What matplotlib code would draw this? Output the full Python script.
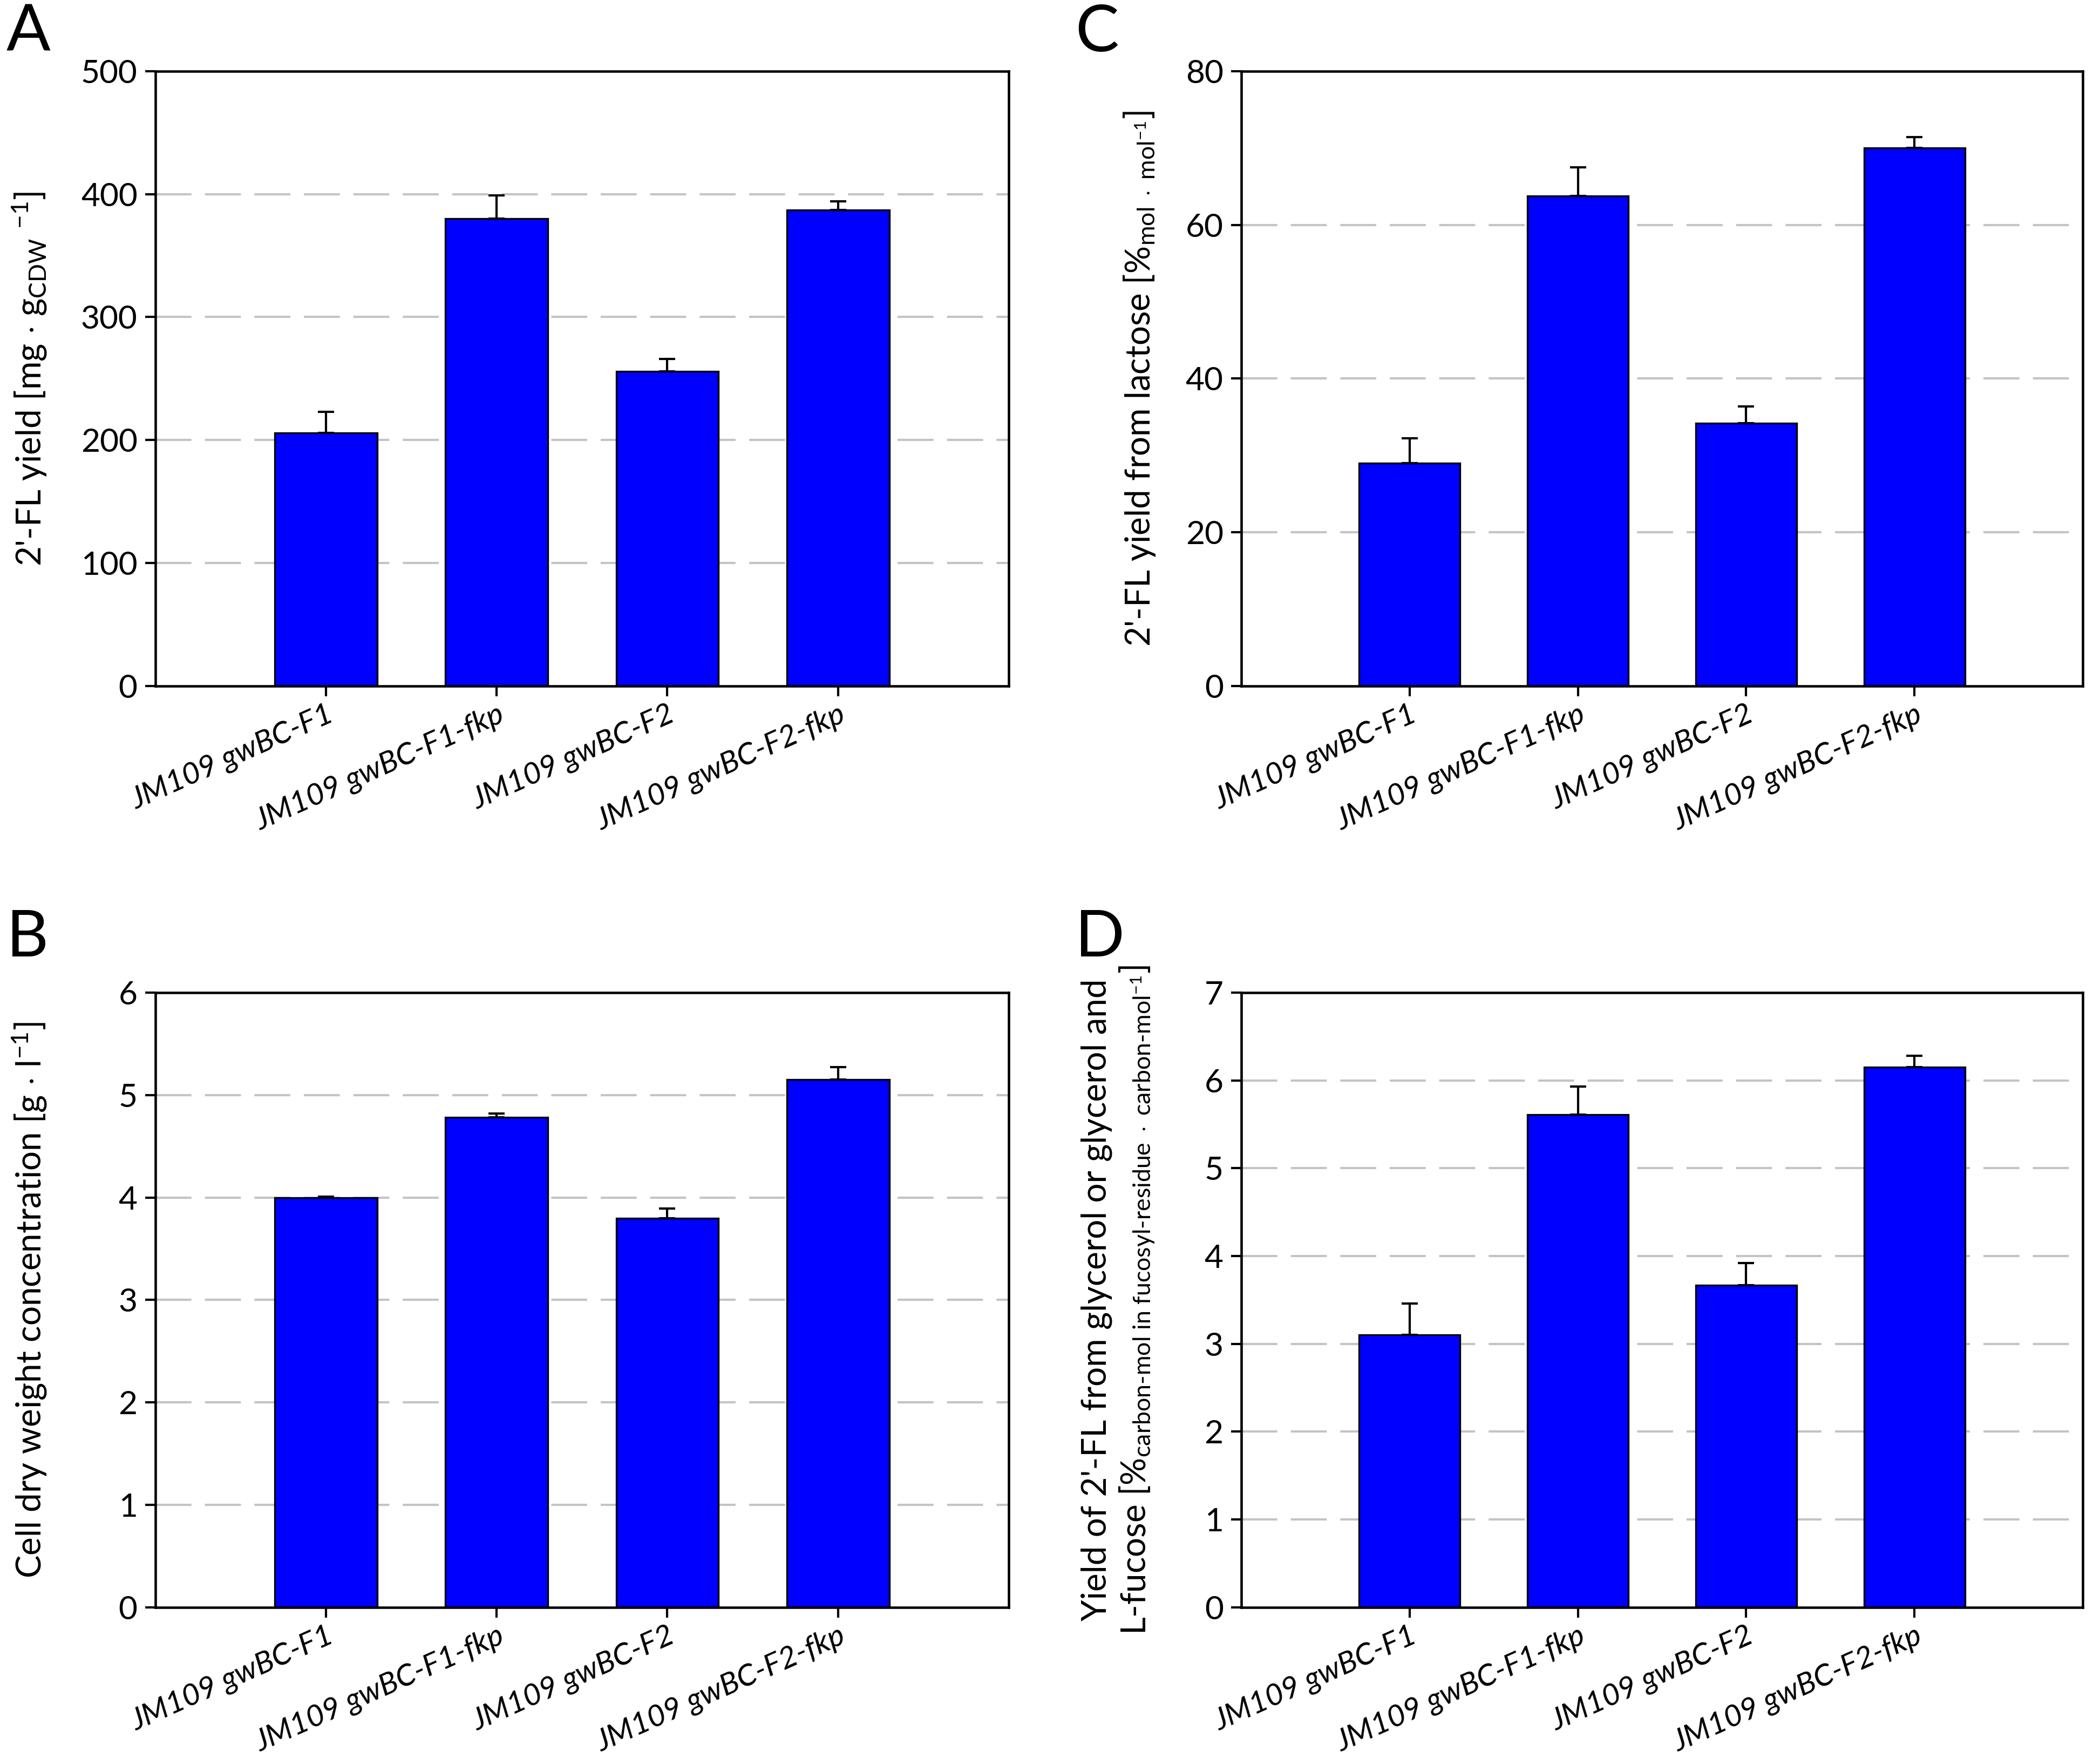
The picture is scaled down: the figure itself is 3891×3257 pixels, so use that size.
import numpy as np
import matplotlib
matplotlib.use("Agg")
import matplotlib.pyplot as plt

plt.rcParams['font.family'] = ['Lato', 'DejaVu Sans']
plt.rcParams['mathtext.fontset'] = 'custom'
plt.rcParams['mathtext.rm'] = 'Lato'
plt.rcParams['mathtext.it'] = 'Lato:italic'
plt.rcParams['mathtext.bf'] = 'Lato:bold'

# strains
strains = ["JM109 gwBC-F1", "JM109 gwBC-F1-fkp", "JM109 gwBC-F2", "JM109 gwBC-F2-fkp"]

# A: 2'-FL yield per cell dry weight
yield_cdw = [206, 380, 256, 387]
yield_cdw_err = [17, 19, 10, 7]

# B: cell dry weight concentration
cdw = [4.0, 4.78, 3.8, 5.15]
cdw_err = [0.01, 0.04, 0.09, 0.12]

# C: 2'-FL yield from lactose
yield_lac = [29.0, 63.8, 34.2, 70.0]
yield_lac_err = [3.2, 3.7, 2.2, 1.4]

# D: yield from glycerol / L-fucose
yield_gly = [3.1, 5.61, 3.67, 6.15]
yield_gly_err = [0.36, 0.32, 0.25, 0.13]

fig = plt.figure(figsize=(3891 / 300, 3257 / 300), dpi=300)

axA = fig.add_axes([0.074, 0.6098, 0.4063, 0.3497])
axC = fig.add_axes([0.5911, 0.6098, 0.4007, 0.3497])
axB = fig.add_axes([0.074, 0.0857, 0.4063, 0.3497])
axD = fig.add_axes([0.5911, 0.0857, 0.4007, 0.3497])

x = np.arange(1, len(strains) + 1)


def draw_panel(ax, vals, errs, ymax, ystep, ylabel, labx):
    ax.set_axisbelow(True)
    for yv in np.arange(ystep, ymax, ystep):
        ax.axhline(yv, color='#c4c4c4', lw=1.0, dashes=(16, 6), zorder=0)
    ax.bar(x, vals, width=0.6, color='#0000ff', edgecolor='black', linewidth=0.8, zorder=2)
    ax.errorbar(x, vals, yerr=[np.zeros(len(errs)), errs], fmt='none', ecolor='black',
                elinewidth=1.0, capsize=3.7, capthick=1.0, zorder=3)
    ax.set_xlim(0, 5)
    ax.set_ylim(0, ymax)
    ax.set_yticks(np.arange(0, ymax + ystep / 2, ystep))
    ax.set_xticks(x)
    ax.set_xticklabels(strains, rotation=24, ha='right', rotation_mode='anchor',
                       style='italic', fontsize=13.6)
    ax.tick_params(axis='y', labelsize=14.5, length=4.5, width=1.0, direction='out')
    ax.tick_params(axis='x', length=4.5, width=1.0, direction='out', pad=2)
    for s in ax.spines.values():
        s.set_linewidth(1.1)
    ax.set_ylabel(ylabel, fontsize=15.3)
    ax.yaxis.set_label_coords(labx, 0.5)


draw_panel(axA, yield_cdw, yield_cdw_err, 500, 100,
           r"2'-FL yield [mg $\cdot$ g$_{\mathrm{CDW}}$ $^{-1}$]", -0.125)
draw_panel(axB, cdw, cdw_err, 6, 1,
           r"Cell dry weight concentration [g $\cdot$ l$^{-1}$]", -0.125)
draw_panel(axC, yield_lac, yield_lac_err, 80, 20,
           r"2'-FL yield from lactose [%$_{\mathrm{mol\ \cdot\ mol^{-1}}}$]", -0.1)
draw_panel(axD, yield_gly, yield_gly_err, 7, 1,
           "Yield of 2'-FL from glycerol or glycerol and\n"
           r"L-fucose [%$_{\mathrm{carbon\text{-}mol\ in\ fucosyl\text{-}residue\ \cdot\ carbon\text{-}mol^{-1}}}$]",
           -0.1)

fig.text(0.003, 0.998, "A", fontsize=29, va='top', ha='left')
fig.text(0.512, 0.998, "C", fontsize=29, va='top', ha='left')
fig.text(0.003, 0.483, "B", fontsize=29, va='top', ha='left')
fig.text(0.512, 0.483, "D", fontsize=29, va='top', ha='left')

fig.savefig("out.png", dpi=300)
